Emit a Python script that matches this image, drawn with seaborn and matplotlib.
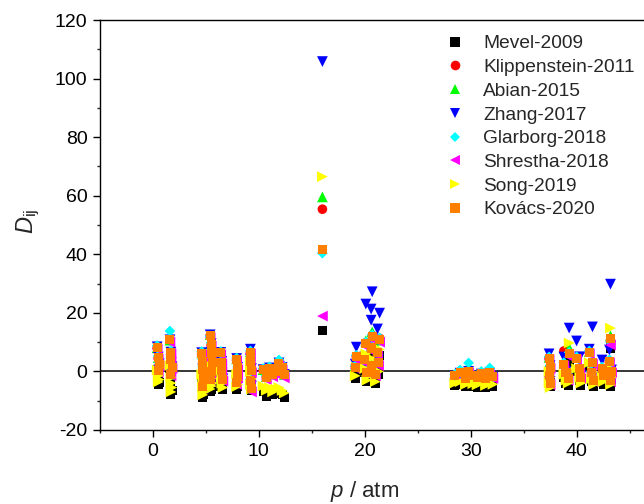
import matplotlib
matplotlib.use("Agg")
import matplotlib.pyplot as plt
from matplotlib.ticker import FixedLocator
import pandas as pd
import seaborn as sns

# Pressure of each experimental condition (atm)
pressure = [
    0.4, 0.5, 0.6, 0.5,
    1.6, 1.7, 1.7, 1.8, 1.7,
    4.6, 4.7, 4.7, 4.8, 4.7, 5.4, 5.5, 5.5, 5.6, 5.5, 5.4,
    6.4, 6.5, 6.5, 6.6,
    7.9, 8.0, 8.0, 7.9,
    9.2, 9.2, 9.3, 9.2, 9.3,
    10.4, 10.7, 11.0, 11.3, 11.6, 11.9, 12.2, 12.4,
    16.0,
    19.2, 19.1, 20.1, 20.0, 20.2, 20.7, 20.6, 20.6, 21.4, 21.2, 21.0, 21.3,
    28.5, 29.0, 29.5, 29.8, 30.2, 30.6, 31.0, 31.4, 31.8, 32.1,
    37.4, 37.5, 37.4, 37.5,
    38.8, 39.0, 39.3, 39.2, 40.0, 40.3, 40.4, 41.2, 41.5, 41.4, 41.6, 42.4, 42.5, 43.2, 43.1, 43.3, 43.2,
]

# Deviation D_ij of each mechanism
mevel = [
    -0.5, -2.5, -3.8, -4.6,
    1.0, -3.0, -5.0, -6.5, -8.0,
    -2.0, -4.5, -6.5, -8.0, -9.0, 1.0, -1.5, -3.5, -5.0, -6.0, -7.0,
    -0.5, -3.0, -5.0, -6.2,
    -2.0, -4.0, -5.3, -6.0,
    1.0, -1.5, -3.5, -5.0, -6.5,
    -7.0, -8.5, -6.5, -8.0, -7.5, -6.8, -8.0, -9.0,
    14.1,
    0.0, -2.5, 4.0, -0.5, -3.5, 6.0, 3.0, -2.5, 5.5, 1.0, -4.0, -1.0,
    -4.8, -4.5, -5.3, -4.8, -5.0, -5.5, -4.8, -5.5, -5.0, -5.3,
    -1.0, -3.0, -4.5, -5.2,
    -2.0, -4.0, 3.0, -4.8, 0.0, -3.0, -4.8, 2.0, -1.0, -3.5, -5.0, -3.0, -4.5, 8.0, 0.0, -3.0, -5.0,
]
klippenstein = [
    8.0, 4.6, 2.3, 0.1,
    10.6, 6.3, 3.8, 1.3, -1.2,
    6.1, 3.3, 0.5, -2.3, -5.1, 12.2, 9.1, 6.1, 3.0, -0.1, -2.9,
    6.1, 3.1, 0.1, -2.9,
    4.1, 1.1, -1.7, -3.9,
    6.5, 3.3, 0.1, -3.1, -6.0,
    0.4, -2.0, 1.0, -1.0, 0.0, 2.6, 1.0, -1.2,
    55.4,
    5.2, 1.8, 9.8, 4.3, -0.2, 12.3, 8.3, 2.3, 11.3, 6.8, -0.7, 3.3,
    -1.4, -0.3, -2.4, 0.6, -1.3, -1.9, -0.6, -2.4, -0.3, -1.6,
    4.6, 1.6, -1.4, -3.9,
    7.0, -0.4, 6.2, -2.4, 4.6, 1.0, -1.9, 6.5, 3.0, -0.4, -2.9, 1.0, -1.4, 10.5, 3.4, 0.0, -2.9,
]
abian = [
    8.1, 4.7, 2.4, 0.2,
    10.7, 6.4, 3.9, 1.4, -1.1,
    6.3, 3.5, 0.7, -2.1, -4.9, 12.6, 9.4, 6.3, 3.2, 0.1, -2.7,
    6.4, 3.3, 0.3, -2.6,
    4.3, 1.3, -1.5, -3.7,
    6.7, 3.5, 0.3, -2.9, -5.7,
    0.6, -1.8, 1.2, -0.8, 0.2, 3.0, 1.4, -1.0,
    59.6,
    5.5, 2.0, 10.5, 4.8, 0.2, 13.5, 9.0, 3.0, 10.7, 7.5, 0.0, 3.8,
    -1.3, -0.2, -2.3, 0.8, -1.2, -1.8, -0.5, -2.3, -0.2, -1.5,
    4.8, 1.8, -1.2, -3.7,
    3.0, 0.0, 8.0, -2.4, 5.0, 1.2, -1.8, 6.8, 3.2, -0.3, -2.8, 1.2, -1.3, 12.2, 3.6, 0.2, -2.8,
]
zhang = [
    8.4, 4.9, 2.6, 0.4,
    10.8, 6.6, 4.1, 1.6, -0.9,
    6.4, 3.6, 0.8, -2.0, -4.8, 12.5, 9.5, 6.4, 3.3, 0.2, -2.6,
    6.5, 3.4, 0.4, -2.5,
    4.4, 1.4, -1.4, -3.6,
    7.6, 4.2, 1.0, -2.2, -5.0,
    0.6, -1.8, 1.2, -0.8, 0.2, 2.9, 1.4, -1.0,
    105.8,
    8.3, 2.5, 23.0, 5.0, 0.5, 27.2, 21.3, 17.5, 19.9, 14.5, 1.0, 4.0,
    -1.6, -0.6, -2.6, 0.0, -1.6, -2.1, -0.9, -2.6, -0.6, -1.9,
    6.0, 2.0, -1.0, -3.5,
    4.9, 0.0, 14.8, -2.0, 10.4, 5.0, -1.5, 7.6, 15.2, 0.0, -2.5, 3.9, -1.0, 29.8, 7.3, 0.5, -2.5,
]
glarborg = [
    8.8, 5.3, 3.0, 0.8,
    13.8, 7.0, 4.5, 2.0, -0.5,
    6.8, 4.0, 1.2, -1.6, -4.4, 12.0, 9.8, 6.8, 3.6, 0.6, -2.2,
    6.8, 3.7, 0.7, -2.2,
    4.6, 1.6, -1.2, -3.4,
    7.0, 3.8, 0.6, -2.6, -5.4,
    1.0, -1.4, 1.6, -0.4, 0.8, 3.9, 2.4, -0.4,
    40.4,
    5.5, 2.0, 10.0, 4.5, 0.0, 12.5, 8.5, 2.5, 11.5, 7.0, -0.5, 3.5,
    -1.0, 0.5, -2.0, 2.9, -1.0, -1.5, 0.0, -2.0, 1.2, -1.2,
    5.0, 2.0, -1.0, -3.5,
    3.0, 0.0, 6.5, -2.0, 5.0, 1.5, -1.5, 7.0, 3.5, 0.0, -2.5, 1.5, -1.0, 10.0, 4.0, 0.5, -2.5,
]
shrestha = [
    7.6, 4.2, 1.9, -0.3,
    10.0, 6.0, 3.5, 1.0, -1.5,
    5.6, 2.8, 0.0, -2.8, -5.8, 11.5, 8.6, 5.6, 2.5, -0.6, -3.4,
    5.7, 2.6, -0.4, -3.3,
    3.6, 0.6, -2.2, -4.4,
    6.0, 2.8, -0.4, -3.6, -7.0,
    0.0, -2.8, 0.4, -1.8, -0.8, 2.0, 0.4, -2.2,
    18.9,
    4.0, 1.0, 8.5, 3.0, -1.0, 11.0, 7.0, 1.0, 10.0, 5.5, -1.5, 2.0,
    -2.2, -1.0, -3.0, -0.5, -2.0, -2.6, -1.4, -3.0, -1.2, -2.4,
    4.0, 1.0, -2.0, -4.5,
    2.0, -1.0, 5.0, -3.0, 4.0, 0.5, -2.5, 6.0, 2.5, -1.0, -3.5, 0.0, -2.5, 9.0, 3.0, -0.5, -3.5,
]
song = [
    0.5, -1.5, -2.8, -3.6,
    2.0, -2.0, -4.0, -5.5, -7.0,
    -1.0, -3.5, -5.5, -7.0, -8.0, 2.0, -0.5, -2.5, -4.0, -5.0, -6.0,
    0.5, -2.0, -4.0, -5.5,
    -1.0, -3.0, -4.5, -5.2,
    3.0, 0.0, -2.5, -4.5, -6.0,
    -5.0, -6.5, -5.5, -7.0, -6.0, -5.5, -6.5, -7.4,
    66.5,
    1.5, -1.5, 6.0, 1.0, -3.0, 8.0, 4.5, -1.0, 7.5, 2.5, -3.5, 0.0,
    -4.0, -3.5, -4.5, -3.8, -4.2, -4.6, -3.8, -4.8, -4.0, -4.4,
    0.0, -2.0, -4.0, -5.5,
    -1.0, -3.0, 9.7, -4.0, 1.0, -2.0, -4.0, 3.0, 0.0, -2.5, -4.5, -2.0, -3.5, 14.8, 1.0, -2.0, -4.5,
]
kovacs = [
    8.2, 4.8, 2.5, 0.3,
    11.0, 6.5, 4.0, 1.5, -1.0,
    6.2, 3.4, 0.6, -2.2, -5.0, 12.4, 9.3, 6.2, 3.1, 0.0, -2.8,
    6.3, 3.2, 0.2, -2.7,
    4.2, 1.2, -1.6, -3.8,
    6.6, 3.4, 0.2, -3.0, -5.8,
    0.5, -2.0, 1.0, -1.0, 0.0, 2.8, 1.2, -1.2,
    41.7,
    5.0, 1.5, 9.5, 4.0, -0.5, 12.0, 8.0, 2.0, 11.0, 6.5, -1.0, 3.0,
    -1.5, -0.5, -2.5, 0.0, -1.5, -2.0, -0.8, -2.5, -0.5, -1.8,
    4.5, 1.5, -1.5, -4.0,
    2.5, -0.5, 6.0, -2.5, 4.5, 1.0, -2.0, 6.5, 3.0, -0.5, -3.0, 1.0, -1.5, 11.4, 3.5, 0.0, -3.0,
]

models = ["Mevel-2009", "Klippenstein-2011", "Abian-2015", "Zhang-2017",
          "Glarborg-2018", "Shrestha-2018", "Song-2019", "Kovács-2020"]
series = [mevel, klippenstein, abian, zhang, glarborg, shrestha, song, kovacs]
colors = ["#000000", "#ff0000", "#00ff00", "#0000ff",
          "#00ffff", "#ff00ff", "#ffff00", "#ff8000"]
marker_shapes = ["s", "o", "^", "v", "D", "<", ">", "s"]
marker_areas = [42, 48, 60, 60, 30, 60, 60, 42]

x_major = [0, 10, 20, 30, 40]
x_minor = [-5, 5, 15, 25, 35, 45]
y_major = [-20, 0, 20, 40, 60, 80, 100, 120]
y_minor = [-10, 10, 30, 50, 70, 90, 110]

df = pd.concat(
    [pd.DataFrame({"p": pressure, "D": vals, "model": name})
     for name, vals in zip(models, series)],
    ignore_index=True,
)

sns.set_theme(style="ticks")
plt.rcParams["font.family"] = ["Liberation Sans", "DejaVu Sans"]
plt.rcParams["mathtext.fontset"] = "custom"
plt.rcParams["mathtext.rm"] = "Liberation Sans"
plt.rcParams["mathtext.it"] = "Liberation Sans:italic"
plt.rcParams["axes.unicode_minus"] = False

fig = plt.figure(figsize=(6.44, 5.04), dpi=100)
ax = fig.add_axes([100 / 644, 74 / 504, 582.5 / 644, 410 / 504])

ax.axhline(0, color="black", lw=1.1, zorder=1)
sns.scatterplot(
    data=df, x="p", y="D",
    hue="model", style="model", size="model",
    hue_order=models, style_order=models, size_order=models,
    palette=dict(zip(models, colors)),
    markers=dict(zip(models, marker_shapes)),
    sizes=dict(zip(models, marker_areas)),
    linewidth=0, edgecolor="none", alpha=1,
    ax=ax, zorder=2,
)

ax.set_xlim(-5, 50)
ax.set_ylim(-20, 120)
ax.xaxis.set_major_locator(FixedLocator(x_major))
ax.xaxis.set_minor_locator(FixedLocator(x_minor))
ax.yaxis.set_major_locator(FixedLocator(y_major))
ax.yaxis.set_minor_locator(FixedLocator(y_minor))
ax.tick_params(which="major", direction="out", length=5, width=1,
               labelsize=14, pad=4, colors="black")
ax.tick_params(which="minor", direction="out", length=2.5, width=1)
for side in ["left", "bottom", "top", "right"]:
    ax.spines[side].set_linewidth(1.0)
    ax.spines[side].set_color("black")

ax.set_xlabel("$p$ / atm", fontsize=16)
ax.xaxis.set_label_coords(25 / 55, -0.12)
ax.set_ylabel(r"$D_{\mathrm{ij}}$", fontsize=17)
ax.yaxis.set_label_coords(-0.1, 0.51)

sns.move_legend(
    ax, "upper left",
    bbox_to_anchor=(0.68, 0.946), bbox_transform=fig.transFigure,
    frameon=False, title=None, fontsize=13.8,
    handlelength=1.0, handletextpad=0.95, labelspacing=0.33,
    borderpad=0.4, borderaxespad=0,
)

fig.savefig("out.png", dpi=100)
